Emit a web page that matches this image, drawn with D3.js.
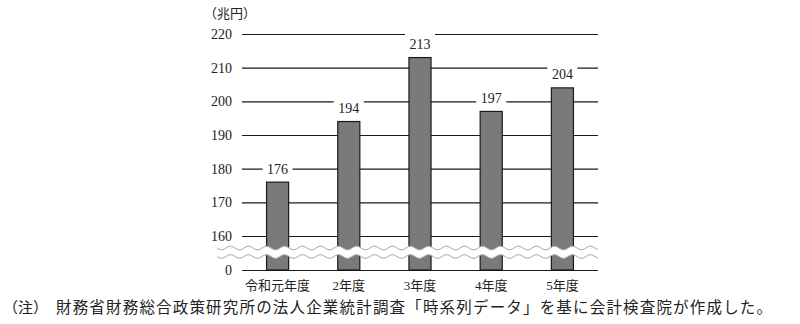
<!DOCTYPE html>
<html>
<head>
<meta charset="utf-8">
<script src="https://cdn.jsdelivr.net/npm/d3@7"></script>
<style>
  body { margin: 0; background: #fff; }
  svg { display: block; }
  text { font-family: "Liberation Serif", "Noto Sans CJK JP", serif; fill: #222; }
</style>
</head>
<body>
<svg id="chart" width="800" height="324"></svg>
<script>
const categories = ["令和元年度", "2年度", "3年度", "4年度", "5年度"];
const values = [176, 194, 213, 197, 204];
const tickValues = [0, 160, 170, 180, 190, 200, 210, 220];
const unitLabel = "（兆円）";
const noteLabel = "（注）";
const noteText = "財務省財務総合政策研究所の法人企業統計調査「時系列データ」を基に会計検査院が作成した。";

const svg = d3.select("#chart");
const left = 242, right = 598;

const x = d3.scaleBand()
    .domain(categories)
    .range([left, right])
    .paddingInner(0.69)
    .paddingOuter(0.345);

// broken axis: 0 .. 160 squeezed into the gap below the break
const y = d3.scaleLinear()
    .domain([0, 160, 220])
    .range([270, 236, 34]);

// gridlines
svg.append("g")
    .attr("transform", `translate(${left},0)`)
    .call(d3.axisRight(y).tickValues(tickValues).tickSize(right - left).tickFormat(""))
    .call(g => g.select(".domain").remove())
    .call(g => g.selectAll("line").attr("stroke", "#1a1a1a").attr("stroke-width", 1.2));

// tick labels
svg.append("g")
    .attr("transform", `translate(${left},0)`)
    .call(d3.axisLeft(y).tickValues(tickValues).tickSize(0).tickPadding(10))
    .call(g => g.select(".domain").remove())
    .call(g => g.selectAll("text")
        .style("font-family", '"Liberation Serif", serif')
        .style("font-size", "14px")
        .attr("fill", "#222"));

// bars
svg.append("g").selectAll("rect")
    .data(values)
    .join("rect")
    .attr("x", (d, i) => x(categories[i]))
    .attr("y", d => y(d))
    .attr("width", x.bandwidth())
    .attr("height", d => y(0) - y(d))
    .attr("fill", "#7a7a7a")
    .attr("stroke", "#1a1a1a")
    .attr("stroke-width", 1.2);

// break marks (white band between two wavy lines)
const waveStart = 217, waveEnd = 598, period = 18, amp = 1.8;
const waveY1 = 248, waveY2 = 256.5;
const xs = d3.range(waveStart, waveEnd + 0.5, 1);
const wave = base => xs.map(v => [v, base + amp * Math.sin((v - waveStart) / period * 2 * Math.PI)]);
const upper = wave(waveY1), lower = wave(waveY2);
svg.append("path")
    .attr("d", d3.line()(upper.concat(lower.slice().reverse())) + "Z")
    .attr("fill", "#fff");
[upper, lower].forEach(pts => {
    svg.append("path")
        .attr("d", d3.line()(pts))
        .attr("fill", "none")
        .attr("stroke", "#aaa")
        .attr("stroke-width", 1);
});

// value labels with white background to cut the gridlines
const lab = svg.append("g").selectAll("g")
    .data(values)
    .join("g")
    .attr("transform", (d, i) => `translate(${x(categories[i]) + x.bandwidth() / 2},${y(d) - 13.5})`);
lab.append("rect")
    .attr("x", -15).attr("y", -11)
    .attr("width", 30).attr("height", 22)
    .attr("fill", "#fff");
lab.append("text")
    .attr("text-anchor", "middle")
    .attr("dy", "0.35em")
    .style("font-size", "14px")
    .text(d => d);

// category labels
svg.append("g").selectAll("text")
    .data(categories)
    .join("text")
    .attr("x", d => x(d) + x.bandwidth() / 2)
    .attr("y", 290)
    .attr("text-anchor", "middle")
    .style("font-size", "13px")
    .text(d => d);

// unit
svg.append("text")
    .attr("x", 204).attr("y", 18)
    .style("font-size", "13px")
    .text(unitLabel);

// footnote
svg.append("text")
    .attr("x", 3).attr("y", 313)
    .style("font-size", "15px")
    .text(noteLabel);
svg.append("text")
    .attr("x", 56).attr("y", 313)
    .attr("textLength", 716)
    .attr("lengthAdjust", "spacing")
    .style("font-size", "15.5px")
    .text(noteText);
</script>
</body>
</html>
